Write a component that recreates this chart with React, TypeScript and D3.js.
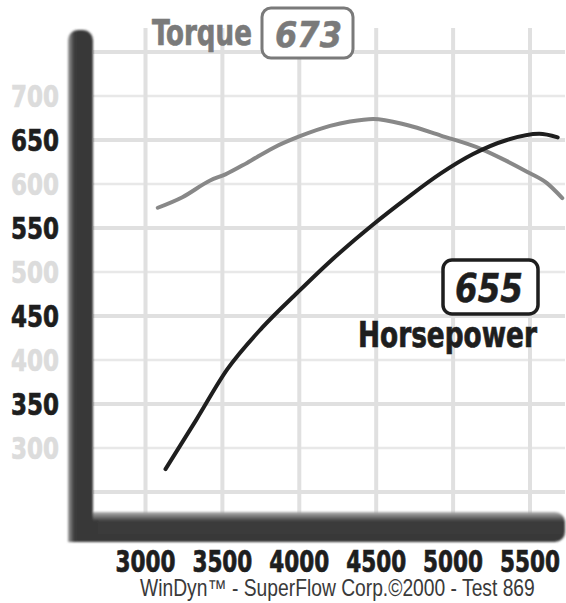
import { useLayoutEffect, useRef } from 'react';
import * as d3 from 'd3';

// engine speed ticks and value ticks
const rpmTicks = [3000, 3500, 4000, 4500, 5000, 5500];
const valueTicks = [300, 350, 400, 450, 500, 550, 600, 650, 700];
const gridValues = [250, 300, 350, 400, 450, 500, 550, 600, 650, 700, 750];

// torque curve (lb-ft)
const torqueRpm = [3080, 3240, 3420, 3520, 3660, 3830, 4000, 4200, 4330, 4480, 4700, 4920, 5180, 5350, 5480, 5610, 5710];
const torqueVal = [573, 585, 604, 611, 624, 641, 654, 666, 671, 674, 667, 655, 640, 626, 614, 601, 584];

// horsepower curve
const hpRpm = [3130, 3330, 3530, 3760, 3990, 4200, 4480, 4700, 4920, 5130, 5350, 5560, 5680];
const hpVal = [276, 332, 389, 437, 477, 512, 554, 584, 612, 634, 650, 657, 653];

const peakTorque = '673';
const peakHp = '655';

const W = 566;
const H = 603;
const condensed = "'DejaVu Sans Condensed', 'Liberation Sans', sans-serif";

// squeezes a text horizontally so it fills the given width
function FitText({ x, y, width, anchor = 'start', children, ...rest }: any) {
  const ref = useRef<SVGTextElement>(null);
  useLayoutEffect(() => {
    const el = ref.current;
    if (!el) return;
    const w = el.getComputedTextLength();
    const s = w > 0 ? width / w : 1;
    const x0 = anchor === 'end' ? x - width : anchor === 'middle' ? x - width / 2 : x;
    el.setAttribute('transform', `translate(${x0},${y}) scale(${s},1)`);
  });
  return <text ref={ref} x={0} y={0} transform={`translate(${x},${y})`} {...rest}>{children}</text>;
}

export default function App() {
  const x = d3.scaleLinear().domain([3000, 5500]).range([145.5, 530]);
  const y = d3.scaleLinear().domain([300, 700]).range([448, 96]);

  const line = d3.line<[number, number]>()
    .x(d => x(d[0]))
    .y(d => y(d[1]))
    .curve(d3.curveMonotoneX);

  const torquePath = line(torqueRpm.map((r, i) => [r, torqueVal[i]] as [number, number])) || '';
  const hpPath = line(hpRpm.map((r, i) => [r, hpVal[i]] as [number, number])) || '';

  const dark = '#1e1e1e';
  const gray = '#7a7a7a';

  return (
    <svg width={W} height={H} style={{ position: 'absolute', left: 0, top: 0, background: '#fff' }}>
      <defs>
        <filter id="soft" x="-5%" y="-5%" width="110%" height="110%">
          <feGaussianBlur stdDeviation="1" />
        </filter>
        <linearGradient id="vbar" x1="0" x2="1" y1="0" y2="0">
          <stop offset="0" stopColor="#9a9a9a" />
          <stop offset="0.25" stopColor="#3a3a3a" />
          <stop offset="1" stopColor="#383838" />
        </linearGradient>
        <linearGradient id="hbar" x1="0" x2="0" y1="0" y2="1">
          <stop offset="0" stopColor="#b0b0b0" />
          <stop offset="0.3" stopColor="#3c3c3c" />
          <stop offset="1" stopColor="#383838" />
        </linearGradient>
      </defs>

      {/* grid */}
      {gridValues.map(v => (
        <line key={'h' + v} x1={93} x2={565} y1={y(v)} y2={y(v)}
          stroke={(v / 50) % 2 === 1 ? '#e0e0e0' : '#e8e8e8'}
          strokeWidth={(v / 50) % 2 === 1 ? 4 : 2.5} />
      ))}
      {rpmTicks.map(r => (
        <line key={'v' + r} x1={x(r)} x2={x(r)} y1={28} y2={517} stroke="#e0e0e0" strokeWidth={4} />
      ))}

      {/* axis bars */}
      <g filter="url(#soft)">
        <rect x={68} y={512} width={497} height={30} rx={10} fill="url(#hbar)" />
        <rect x={68} y={520} width={30} height={22} fill="#383838" />
        <rect x={68} y={30} width={25} height={495} rx={10} fill="url(#vbar)" />
        <rect x={68} y={60} width={25} height={482} fill="url(#vbar)" />
      </g>

      {/* curves */}
      <path d={torquePath} fill="none" stroke="#888" strokeWidth={4} strokeLinecap="round" />
      <path d={hpPath} fill="none" stroke={dark} strokeWidth={4} strokeLinecap="round" />

      {/* y labels */}
      {valueTicks.map(v => {
        const c = (v / 50) % 2 === 1 ? dark : '#dcdcdc';
        return (
          <FitText key={'yl' + v} x={59} y={y(v) + 11} width={48} anchor="end"
            fontFamily={condensed} fontWeight="bold" fontSize={30}
            fill={c} stroke={c} strokeWidth={0.7}>{v}</FitText>
        );
      })}

      {/* x labels */}
      {rpmTicks.map(r => (
        <FitText key={'xl' + r} x={x(r)} y={572} width={60} anchor="middle"
          fontFamily={condensed} fontWeight="bold" fontSize={30} fill={dark}
          stroke={dark} strokeWidth={0.7}>{r}</FitText>
      ))}

      {/* torque title */}
      <FitText x={152} y={45} width={100} fontFamily={condensed} fontWeight="bold" fontSize={36}
        fill={gray} stroke={gray} strokeWidth={0.7}>Torque</FitText>
      <rect x={262} y={8} width={91} height={50} rx={9} fill="#fff" stroke={gray} strokeWidth={3} />
      <FitText x={275} y={47} width={67} fontFamily={condensed} fontWeight="bold" fontStyle="italic"
        fontSize={35} fill={gray} stroke={gray} strokeWidth={0.5}>{peakTorque}</FitText>

      {/* horsepower title */}
      <rect x={443} y={260} width={95} height={54} rx={9} fill="#fff" stroke={dark} strokeWidth={3.5} />
      <FitText x={455} y={302} width={68} fontFamily={condensed} fontWeight="bold" fontStyle="italic"
        fontSize={39} fill={dark} stroke={dark} strokeWidth={0.5}>{peakHp}</FitText>
      <FitText x={358} y={347} width={179} fontFamily={condensed} fontWeight="bold" fontSize={35}
        fill={dark} stroke={dark} strokeWidth={0.7}>Horsepower</FitText>

      {/* footer */}
      <FitText x={140} y={596} width={395} fontFamily="'Liberation Sans', sans-serif" fontSize={23}
        fill="#3a3a3a">WinDyn™ - SuperFlow Corp.©2000 - Test 869</FitText>
    </svg>
  );
}
